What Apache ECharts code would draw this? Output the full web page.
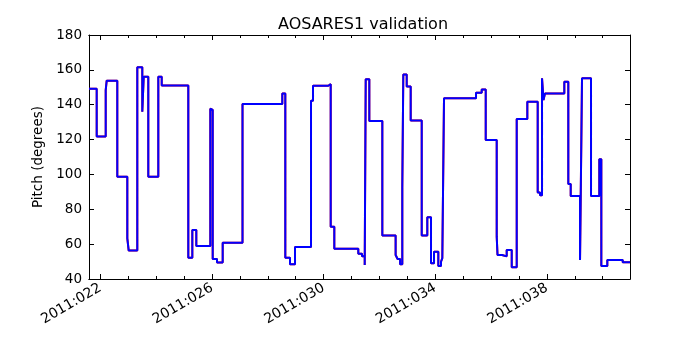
<!DOCTYPE html>
<html>
<head>
<meta charset="utf-8">
<script src="https://cdn.jsdelivr.net/npm/echarts@6/dist/echarts.min.js"></script>
<style>
  html, body { margin: 0; padding: 0; background: #fff; }
  #chart { width: 700px; height: 350px; }
</style>
</head>
<body>
<div id="chart"></div>
<script>
// day of year 2011 at which the pitch changes, and the new pitch (deg)
const stepDays = [
  21.59, 21.866, 22.189, 22.224, 22.604, 22.963, 23.013, 23.321, 23.500, 23.551,
  23.715, 24.074, 24.196, 25.149, 25.293, 25.436, 25.938, 25.988, 26.024, 26.178,
  26.382, 27.092, 28.518, 28.626, 28.794, 28.974, 29.547, 29.619, 30.167, 30.253,
  30.382, 31.242, 31.375, 31.472, 31.508, 31.637, 32.103, 32.58, 32.65, 32.74,
  32.819, 32.855, 32.977, 33.120, 33.515, 33.715, 33.848, 33.956, 34.110, 34.206,
  34.253, 34.314, 35.461, 35.665, 35.809, 36.203, 36.232, 36.393, 36.561, 36.741,
  36.920, 37.300, 37.672, 37.755, 37.827, 37.880, 37.934, 38.626, 38.769, 38.855,
  39.189, 39.260, 39.583, 39.880, 39.952, 40.167, 40.719, 40.98
];
const pitchValues = [
  149.2, 121.7, 148.4, 153.8, 98.7, 63.3, 56.3, 161.5, 136, 156.1,
  98.7, 156.1, 151, 52.2, 68.1, 59, 137.7, 137, 51.5, 49.4,
  60.8, 140.4, 146.5, 52.2, 48.4, 58.4, 142.3, 150.9, 151.8, 70,
  57.4, 54.5, 53, 48, 154.6, 130.7, 64.9, 53.8, 51.5, 48.4,
  92.4, 157.4, 150.4, 131, 64.9, 75.4, 49, 55.7, 47.5, 49.9,
  52, 143.7, 146.9, 148.8, 119.8, 64.3, 53.8, 53, 56.6, 46.7,
  131.8, 141.7, 89.7, 88, 155.2, 142.7, 146.5, 153.2, 94.5, 87.6,
  50.9, 155.2, 87.6, 108.7, 47.5, 50.9, 49.6, 49.6
];
const majorDays = [22, 26, 30, 34, 38];
const minorDays = [22, 23, 24, 25, 26, 27, 28, 29, 30, 31, 32, 33, 34, 35, 36, 37, 38, 39, 40];
const xMin = 21.59;
const xMax = 40.98;

const font = 'DejaVu Sans';
const pts = stepDays.map((d, i) => [d, pitchValues[i]]);

function xAxisDef(position, ticks, len, withLabels) {
  return {
    type: 'value',
    position: position,
    min: xMin,
    max: xMax,
    axisLine: { show: true, onZero: false, lineStyle: { color: '#000', width: 1 } },
    axisTick: { show: true, inside: true, length: len, customValues: ticks, lineStyle: { color: '#000' } },
    axisLabel: {
      show: withLabels,
      customValues: majorDays,
      rotate: 30,
      margin: 8,
      fontFamily: font,
      fontSize: 14,
      color: '#000',
      formatter: (v) => '2011:0' + Math.round(v)
    },
    splitLine: { show: false }
  };
}

function yAxisDef(position, withLabels) {
  return {
    type: 'value',
    position: position,
    min: 40,
    max: 180,
    interval: 20,
    name: withLabels ? 'Pitch (degrees)' : '',
    nameLocation: 'middle',
    nameGap: 36,
    nameTextStyle: { fontFamily: font, fontSize: 13.5, color: '#000' },
    axisLine: { show: true, onZero: false, lineStyle: { color: '#000', width: 1 } },
    axisTick: { show: true, inside: true, length: 5, lineStyle: { color: '#000' } },
    axisLabel: { show: withLabels, margin: 7, fontFamily: font, fontSize: 13.5, color: '#000' },
    splitLine: { show: false }
  };
}

const chart = echarts.init(document.getElementById('chart'));
chart.setOption({
  animation: false,
  title: {
    text: 'AOSARES1 validation',
    left: 358,
    textAlign: 'center',
    top: 12,
    textStyle: { fontFamily: font, fontSize: 16, fontWeight: 'normal', color: '#000' }
  },
  grid: { left: 89, right: 70, top: 35, bottom: 71 },
  xAxis: [
    xAxisDef('bottom', majorDays, 5, true),
    xAxisDef('bottom', minorDays, 3, false),
    xAxisDef('top', majorDays, 5, false),
    xAxisDef('top', minorDays, 3, false)
  ],
  yAxis: [yAxisDef('left', true), yAxisDef('right', false)],
  series: [
    {
      type: 'line',
      step: 'end',
      data: pts,
      showSymbol: false,
      lineStyle: { color: '#ff0000', width: 2 },
      z: 2
    },
    {
      type: 'line',
      step: 'end',
      data: pts,
      showSymbol: false,
      lineStyle: { color: '#0000ff', width: 2 },
      z: 3
    }
  ]
});
</script>
</body>
</html>
